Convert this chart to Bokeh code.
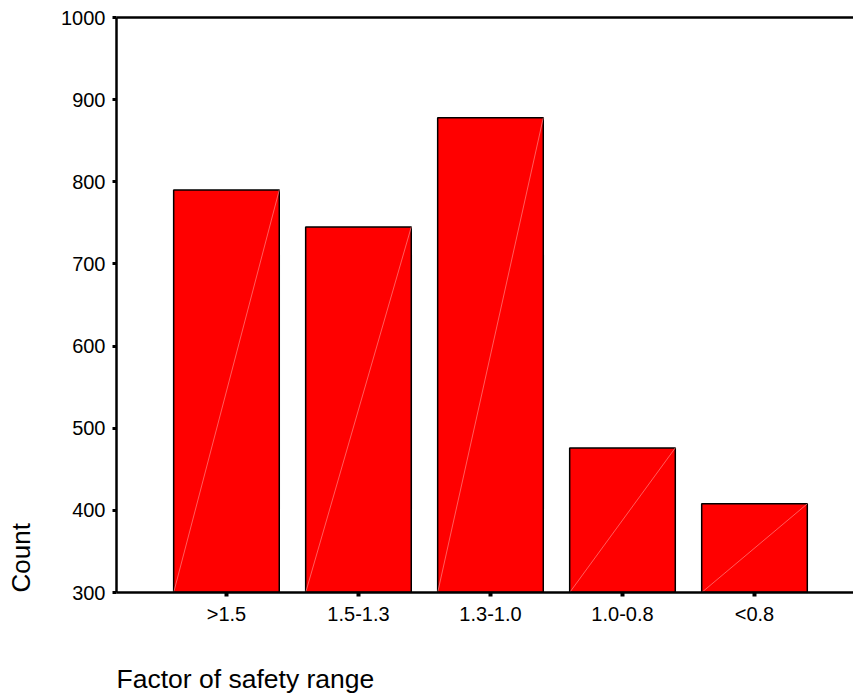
from bokeh.plotting import figure
from bokeh.models import FixedTicker, Title, LinearAxis
from bokeh.embed import file_html
from bokeh.resources import INLINE

categories = [">1.5", "1.5-1.3", "1.3-1.0", "1.0-0.8", "<0.8"]
counts = [790, 745, 878, 476, 408]
y_ticks = [300, 400, 500, 600, 700, 800, 900, 1000]
y_min, y_max = 300, 1000

FONT = "Liberation Sans"
xs = list(range(len(categories)))
bar_w = 0.80

p = figure(width=853, height=694, output_backend="svg", toolbar_location=None,
           x_range=(-0.833, 4.75), y_range=(y_min, y_max),
           min_border_left=116, min_border_right=0, min_border_top=17, min_border_bottom=102)
p.outline_line_color = None
p.grid.visible = False
p.background_fill_color = "white"
p.border_fill_color = "white"

p.vbar(x=xs, top=counts, bottom=y_min, width=bar_w, fill_color="#ff0000",
       line_color="black", line_width=1.5)
# faint diagonal artefact inside bars
p.segment(x0=[x - bar_w / 2 for x in xs], y0=[y_min] * len(xs),
          x1=[x + bar_w / 2 for x in xs], y1=counts,
          line_color="#ff8080", line_width=0.8, line_alpha=0.9)

xax = p.xaxis[0]
yax = p.yaxis[0]
yax.ticker = FixedTicker(ticks=y_ticks)
xax.ticker = FixedTicker(ticks=xs)
xax.major_label_overrides = {i: c for i, c in enumerate(categories)}
for ax in (xax, yax):
    ax.axis_line_width = 2.5
    ax.axis_line_color = "black"
    ax.major_tick_in = 0
    ax.major_tick_out = 4
    ax.major_tick_line_color = "black"
    ax.minor_tick_line_color = None
    ax.major_label_text_font = FONT
    ax.major_label_text_font_size = "20px"
    ax.major_label_text_color = "black"
yax.major_tick_line_width = 3
xax.major_tick_line_width = 4
yax.major_label_standoff = 7
xax.major_label_standoff = 6

# top frame line (no ticks, no labels)
top_axis = LinearAxis(ticker=FixedTicker(ticks=[]), axis_line_width=2.5,
                      axis_line_color="black", major_label_text_font_size="0px",
                      major_tick_line_color=None, minor_tick_line_color=None)
p.add_layout(top_axis, "above")

# spacers (blank titles) then the axis titles
p.add_layout(Title(text=" ", standoff=21, text_font_size="10px"), "below")
p.add_layout(Title(text="Factor of safety range", align="left", standoff=0,
                   text_font=FONT, text_font_size="26.5px", text_font_style="normal",
                   text_color="black"), "below")
p.add_layout(Title(text=" ", standoff=10, text_font_size="10px"), "left")
p.add_layout(Title(text="Count", align="left", standoff=0,
                   text_font=FONT, text_font_size="26px", text_font_style="normal",
                   text_color="black"), "left")

open("out.html", "w").write(file_html(p, INLINE))
